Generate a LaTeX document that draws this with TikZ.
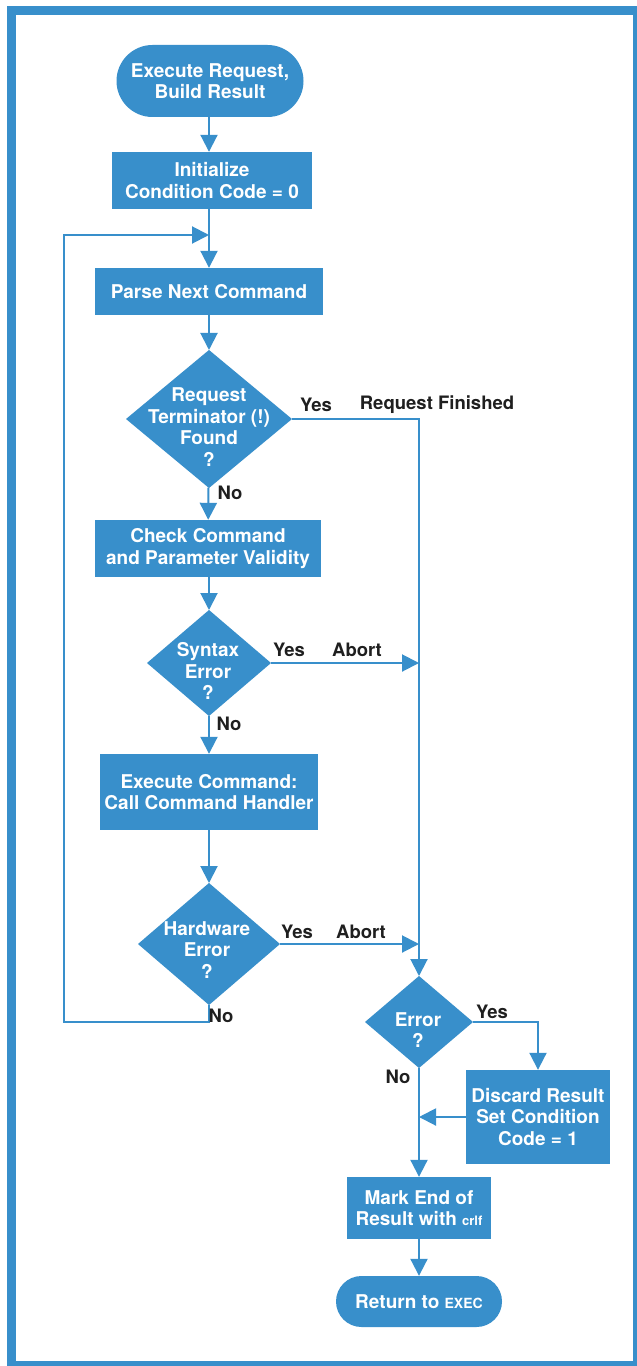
\documentclass[tikz,border=0pt]{standalone}
\usepackage{fontspec}
\setmainfont{TeX Gyre Heros}
\usetikzlibrary{shapes.geometric,arrows.meta}
\definecolor{hpblue}{RGB}{56,143,203}
\begin{document}
\begin{tikzpicture}[x=1bp,y=-1bp,
  box/.style={rectangle, fill=hpblue, text=white, font=\fontsize{19bp}{21.5bp}\selectfont\bfseries, align=center, inner sep=0pt},
  term/.style={box, rounded corners=#1},
  dec/.style={diamond, fill=hpblue, inner sep=0pt, outer sep=0pt},
  dectext/.style={text=white, font=\fontsize{19bp}{21.5bp}\selectfont\bfseries, align=center, inner sep=0pt},
  lbl/.style={font=\fontsize{18.5bp}{21bp}\selectfont\bfseries, text=black!88, inner sep=0pt},
  arr/.style={draw=hpblue, line width=2bp, -{Triangle[length=17bp,width=17bp]}},
  ln/.style={draw=hpblue, line width=2bp}]
\useasboundingbox (0,0) rectangle (637,1366);
% frame
\fill[hpblue] (7,6) rectangle (637,1366);
\fill[white] (16,15) rectangle (633,1361);

% nodes
\node[term=36bp, minimum width=187bp, minimum height=72bp] (start) at (210,81) {Execute Request,\\Build Result};
\node[box, minimum width=200bp, minimum height=57bp] (init) at (212,180.5) {Initialize\\Condition Code = 0};
\node[box, minimum width=228bp, minimum height=47bp] (parse) at (209,291.5) {Parse Next Command};
\node[dec, minimum width=166bp, minimum height=138bp] (d1) at (209,419) {};
\node[dectext] (d1t) at (209,427) {Request\\Terminator (!)\\Found\\?};
\node[box, minimum width=226bp, minimum height=57bp] (check) at (208,548.5) {Check Command\\and Parameter Validity};
\node[dec, minimum width=124bp, minimum height=106bp] (d2) at (209,663) {};
\node[dectext] (d2t) at (208,671) {Syntax\\Error\\?};
\node[box, minimum width=218bp, minimum height=76bp] (exec) at (209,792) {Execute Command:\\Call Command Handler};
\node[dec, minimum width=142bp, minimum height=122bp] (d3) at (209,944) {};
\node[dectext] (d3t) at (207,950) {Hardware\\Error\\?};
\node[dec, minimum width=108bp, minimum height=92bp] (d4) at (419,1022) {};
\node[dectext] (d4t) at (418,1030) {Error\\?};
\node[box, minimum width=144bp, minimum height=94bp] (discard) at (538,1117) {Discard Result\\Set Condition\\Code = 1};
\node[box, minimum width=144bp, minimum height=62bp] (mark) at (419,1208) {Mark End of\\Result with {\fontsize{13bp}{15bp}\selectfont crlf}};
\node[term=25.5bp, minimum width=166bp, minimum height=51bp] (ret) at (419,1301.5) {Return to {\fontsize{14bp}{16bp}\selectfont EXEC}};

% connectors
\coordinate (join) at (209,235);
\coordinate (loopL) at (64,1022);
\draw[arr] (start.south -| d1.north) -- (init.north -| d1.north);
\draw[arr] (init.south -| d1.north) -- (parse.north);
\draw[arr] (parse) -- (d1);
\draw[arr] (d1) -- (check);
\draw[arr] (check.south -| d1.north) -- (d2.north);
\draw[arr] (d2) -- (exec);
\draw[arr] (exec) -- (d3);
\draw[arr] (d1.east) -| (d4.north);
\draw[arr] (d2.east) -- (d2.east -| d4.north);
\draw[arr] (d3.east) -- (d3.east -| d4.north);
\draw[arr] (d3.south) |- (loopL) |- (join);
\draw[arr] (d4.east) -| (discard.north);
\draw[arr] (discard.west) -- (discard.west -| d4.south);
\draw[arr] (d4.south) -- (mark.north);
\draw[arr] (mark) -- (ret);

% labels
\node[lbl] (y1) at (316,405) {Yes};
\node[lbl] (rf) at (437,405) {Request Finished};
\node[lbl] (n1) at (230,493) {No};
\node[lbl] (y2) at (289,650) {Yes};
\node[lbl] (a2) at (357,650) {Abort};
\node[lbl] (n2) at (229,724) {No};
\node[lbl] (y3) at (297,932) {Yes};
\node[lbl] (a3) at (361,932) {Abort};
\node[lbl] (n3) at (221,1016) {No};
\node[lbl] (y4) at (492,1012) {Yes};
\node[lbl] (n4) at (398,1077) {No};
\end{tikzpicture}
\end{document}
